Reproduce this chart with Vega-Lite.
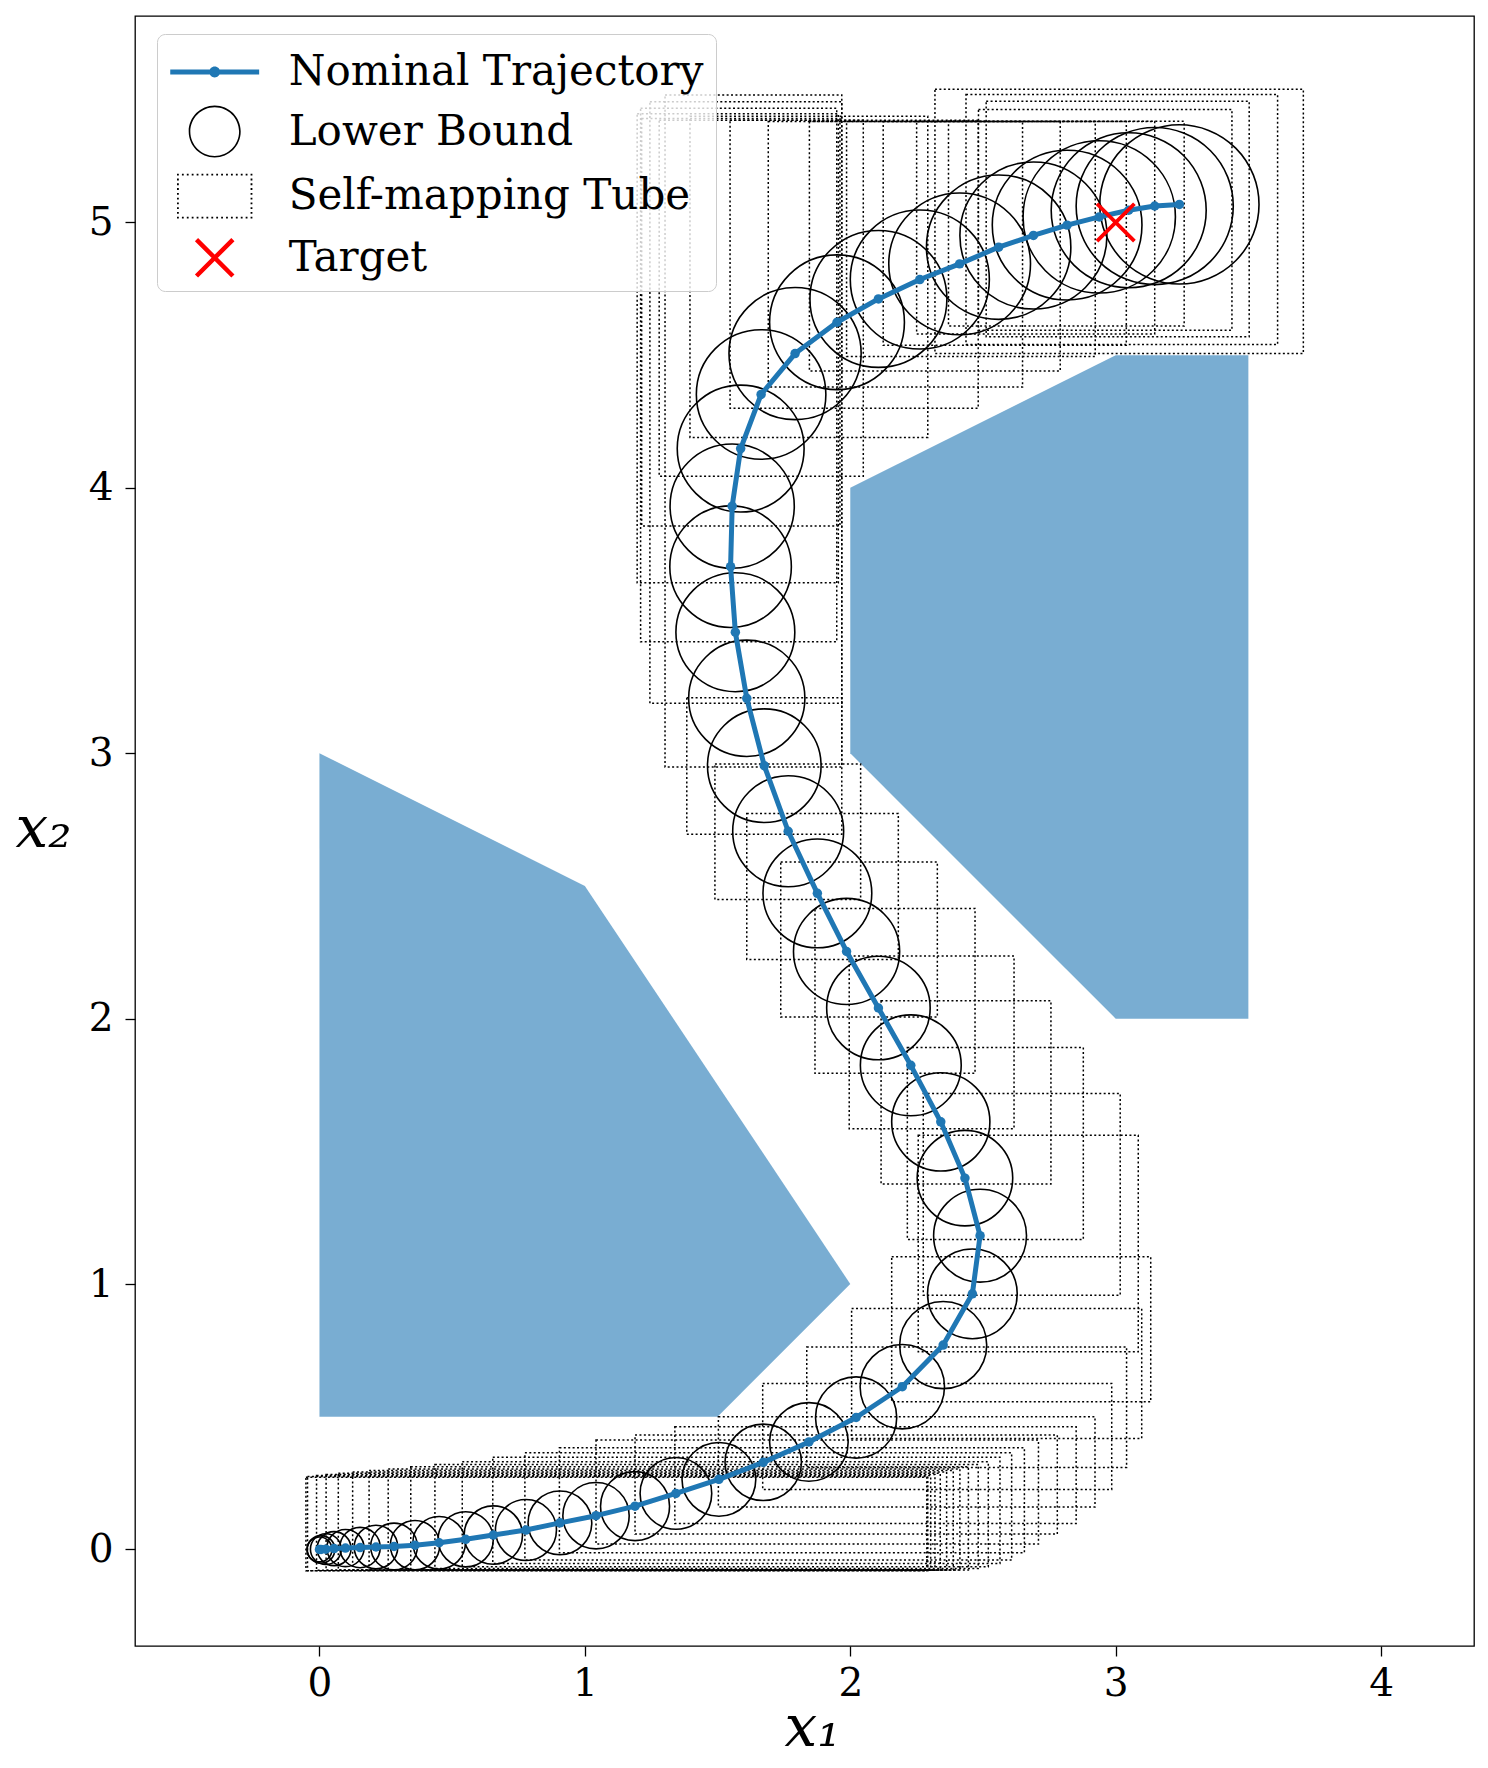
{
  "$schema": "https://vega.github.io/schema/vega-lite/v6.json",
  "width": 1339,
  "height": 1630,
  "autosize": {"type": "none"},
  "padding": {"left": 135, "top": 16, "right": 14, "bottom": 122},
  "background": "white",
  "config": {
    "view": {"stroke": "black", "strokeWidth": 1.3},
    "axis": {
      "grid": false, "domain": false, "ticks": true, "tickColor": "black", "tickWidth": 1.3, "tickSize": 10,
      "labelFont": "DejaVu Serif", "labelFontSize": 39, "labelColor": "black", "format": "d",
      "titleFont": "DejaVu Serif", "titleFontSize": 58, "titleFontStyle": "italic", "titleFontWeight": "normal", "titleColor": "black"
    }
  },
  "datasets": {
    "obstacles": [
      {"obstacle": "A", "x": 0, "y": 3, "y0": 0.5},
      {"obstacle": "A", "x": 1, "y": 2.5, "y0": 0.5},
      {"obstacle": "A", "x": 1.5, "y": 1.75, "y0": 0.5},
      {"obstacle": "A", "x": 2, "y": 1, "y0": 1},
      {"obstacle": "B", "x": 2, "y": 4, "y0": 3},
      {"obstacle": "B", "x": 3, "y": 4.5, "y0": 2},
      {"obstacle": "B", "x": 3.5, "y": 4.5, "y0": 2}
    ],
    "tube": [
      {"x1": -0.051, "x2": 2.288, "y1": -0.080, "y2": 0.272},
      {"x1": -0.045, "x2": 2.292, "y1": -0.080, "y2": 0.275},
      {"x1": -0.011, "x2": 2.303, "y1": -0.079, "y2": 0.278},
      {"x1": 0.025, "x2": 2.319, "y1": -0.079, "y2": 0.282},
      {"x1": 0.071, "x2": 2.339, "y1": -0.078, "y2": 0.287},
      {"x1": 0.125, "x2": 2.363, "y1": -0.078, "y2": 0.292},
      {"x1": 0.187, "x2": 2.388, "y1": -0.078, "y2": 0.297},
      {"x1": 0.259, "x2": 2.413, "y1": -0.078, "y2": 0.303},
      {"x1": 0.344, "x2": 2.445, "y1": -0.078, "y2": 0.311},
      {"x1": 0.435, "x2": 2.482, "y1": -0.072, "y2": 0.320},
      {"x1": 0.538, "x2": 2.520, "y1": -0.065, "y2": 0.330},
      {"x1": 0.653, "x2": 2.564, "y1": -0.053, "y2": 0.347},
      {"x1": 0.774, "x2": 2.608, "y1": -0.040, "y2": 0.364},
      {"x1": 0.904, "x2": 2.656, "y1": -0.013, "y2": 0.383},
      {"x1": 1.042, "x2": 2.709, "y1": 0.020, "y2": 0.412},
      {"x1": 1.189, "x2": 2.780, "y1": 0.058, "y2": 0.431},
      {"x1": 1.339, "x2": 2.851, "y1": 0.098, "y2": 0.462},
      {"x1": 1.503, "x2": 2.922, "y1": 0.160, "y2": 0.500},
      {"x1": 1.670, "x2": 2.985, "y1": 0.226, "y2": 0.625},
      {"x1": 1.836, "x2": 3.041, "y1": 0.309, "y2": 0.763},
      {"x1": 2.005, "x2": 3.098, "y1": 0.418, "y2": 0.908},
      {"x1": 2.156, "x2": 3.132, "y1": 0.556, "y2": 1.103},
      {"x1": 2.256, "x2": 3.085, "y1": 0.745, "y2": 1.561},
      {"x1": 2.275, "x2": 3.017, "y1": 0.958, "y2": 1.718},
      {"x1": 2.215, "x2": 2.878, "y1": 1.168, "y2": 1.891},
      {"x1": 2.116, "x2": 2.756, "y1": 1.377, "y2": 2.067},
      {"x1": 1.996, "x2": 2.617, "y1": 1.585, "y2": 2.236},
      {"x1": 1.867, "x2": 2.470, "y1": 1.794, "y2": 2.415},
      {"x1": 1.738, "x2": 2.328, "y1": 2.006, "y2": 2.590},
      {"x1": 1.610, "x2": 2.181, "y1": 2.223, "y2": 2.773},
      {"x1": 1.490, "x2": 2.039, "y1": 2.449, "y2": 2.959},
      {"x1": 1.384, "x2": 1.968, "y1": 2.695, "y2": 3.209},
      {"x1": 1.302, "x2": 1.968, "y1": 2.948, "y2": 5.480},
      {"x1": 1.245, "x2": 1.968, "y1": 3.188, "y2": 5.455},
      {"x1": 1.210, "x2": 1.949, "y1": 3.420, "y2": 5.430},
      {"x1": 1.197, "x2": 1.955, "y1": 3.642, "y2": 5.410},
      {"x1": 1.214, "x2": 1.961, "y1": 3.856, "y2": 5.392},
      {"x1": 1.280, "x2": 2.049, "y1": 4.044, "y2": 5.385},
      {"x1": 1.396, "x2": 2.292, "y1": 4.190, "y2": 5.400},
      {"x1": 1.547, "x2": 2.482, "y1": 4.300, "y2": 5.385},
      {"x1": 1.691, "x2": 2.649, "y1": 4.380, "y2": 5.380},
      {"x1": 1.846, "x2": 2.791, "y1": 4.440, "y2": 5.380},
      {"x1": 1.986, "x2": 2.923, "y1": 4.495, "y2": 5.380},
      {"x1": 2.124, "x2": 3.040, "y1": 4.537, "y2": 5.380},
      {"x1": 2.250, "x2": 3.147, "y1": 4.580, "y2": 5.380},
      {"x1": 2.370, "x2": 3.258, "y1": 4.610, "y2": 5.381},
      {"x1": 2.483, "x2": 3.438, "y1": 4.594, "y2": 5.426},
      {"x1": 2.512, "x2": 3.503, "y1": 4.569, "y2": 5.457},
      {"x1": 2.436, "x2": 3.610, "y1": 4.540, "y2": 5.482},
      {"x1": 2.319, "x2": 3.707, "y1": 4.506, "y2": 5.502}
    ],
    "traj": [
      {"step": 0, "x": 0.000, "y": 0.000, "r": 0.047},
      {"step": 1, "x": 0.006, "y": 0.000, "r": 0.052},
      {"step": 2, "x": 0.024, "y": 0.001, "r": 0.058},
      {"step": 3, "x": 0.055, "y": 0.003, "r": 0.064},
      {"step": 4, "x": 0.098, "y": 0.005, "r": 0.070},
      {"step": 5, "x": 0.153, "y": 0.007, "r": 0.076},
      {"step": 6, "x": 0.213, "y": 0.009, "r": 0.082},
      {"step": 7, "x": 0.281, "y": 0.011, "r": 0.088},
      {"step": 8, "x": 0.360, "y": 0.016, "r": 0.093},
      {"step": 9, "x": 0.451, "y": 0.025, "r": 0.099},
      {"step": 10, "x": 0.551, "y": 0.038, "r": 0.104},
      {"step": 11, "x": 0.655, "y": 0.054, "r": 0.110},
      {"step": 12, "x": 0.778, "y": 0.073, "r": 0.115},
      {"step": 13, "x": 0.906, "y": 0.100, "r": 0.120},
      {"step": 14, "x": 1.042, "y": 0.127, "r": 0.125},
      {"step": 15, "x": 1.189, "y": 0.163, "r": 0.130},
      {"step": 16, "x": 1.343, "y": 0.211, "r": 0.135},
      {"step": 17, "x": 1.505, "y": 0.264, "r": 0.139},
      {"step": 18, "x": 1.672, "y": 0.328, "r": 0.144},
      {"step": 19, "x": 1.844, "y": 0.405, "r": 0.148},
      {"step": 20, "x": 2.022, "y": 0.497, "r": 0.153},
      {"step": 21, "x": 2.196, "y": 0.613, "r": 0.159},
      {"step": 22, "x": 2.350, "y": 0.770, "r": 0.164},
      {"step": 23, "x": 2.460, "y": 0.963, "r": 0.169},
      {"step": 24, "x": 2.489, "y": 1.182, "r": 0.175},
      {"step": 25, "x": 2.432, "y": 1.399, "r": 0.180},
      {"step": 26, "x": 2.341, "y": 1.611, "r": 0.185},
      {"step": 27, "x": 2.228, "y": 1.824, "r": 0.190},
      {"step": 28, "x": 2.106, "y": 2.040, "r": 0.195},
      {"step": 29, "x": 1.986, "y": 2.253, "r": 0.200},
      {"step": 30, "x": 1.876, "y": 2.472, "r": 0.205},
      {"step": 31, "x": 1.766, "y": 2.706, "r": 0.209},
      {"step": 32, "x": 1.676, "y": 2.953, "r": 0.214},
      {"step": 33, "x": 1.610, "y": 3.207, "r": 0.219},
      {"step": 34, "x": 1.567, "y": 3.456, "r": 0.224},
      {"step": 35, "x": 1.549, "y": 3.703, "r": 0.229},
      {"step": 36, "x": 1.555, "y": 3.931, "r": 0.234},
      {"step": 37, "x": 1.587, "y": 4.148, "r": 0.239},
      {"step": 38, "x": 1.664, "y": 4.352, "r": 0.244},
      {"step": 39, "x": 1.792, "y": 4.506, "r": 0.249},
      {"step": 40, "x": 1.950, "y": 4.624, "r": 0.254},
      {"step": 41, "x": 2.106, "y": 4.712, "r": 0.258},
      {"step": 42, "x": 2.262, "y": 4.785, "r": 0.262},
      {"step": 43, "x": 2.412, "y": 4.844, "r": 0.267},
      {"step": 44, "x": 2.559, "y": 4.907, "r": 0.272},
      {"step": 45, "x": 2.690, "y": 4.951, "r": 0.277},
      {"step": 46, "x": 2.817, "y": 4.990, "r": 0.282},
      {"step": 47, "x": 2.938, "y": 5.021, "r": 0.287},
      {"step": 48, "x": 3.049, "y": 5.046, "r": 0.292},
      {"step": 49, "x": 3.147, "y": 5.062, "r": 0.296},
      {"step": 50, "x": 3.240, "y": 5.068, "r": 0.300}
    ],
    "target": [{"x": 3, "y": 5}],
    "legendEntries": [
      {"entry": "Nominal Trajectory"},
      {"entry": "Lower Bound"},
      {"entry": "Self-mapping Tube"},
      {"entry": "Target"}
    ]
  },
  "layer": [
    {
      "data": {"name": "obstacles"},
      "mark": {"type": "area", "color": "#1f77b4", "opacity": 0.6, "strokeWidth": 0},
      "encoding": {
        "x": {"field": "x", "type": "quantitative", "scale": {"domain": [-0.695, 4.35], "nice": false, "zero": false},
          "axis": {"values": [0, 1, 2, 3, 4], "title": "x₁", "labelPadding": 8, "titleX": 677, "titleY": 99, "titleAlign": "center", "titleBaseline": "alphabetic"}},
        "y": {"field": "y", "type": "quantitative", "stack": null, "scale": {"domain": [-0.364, 5.778], "nice": false, "zero": false},
          "axis": {"values": [0, 1, 2, 3, 4, 5], "title": "x₂", "labelPadding": 12, "titleAngle": 0, "titleX": -120, "titleY": 830, "titleAlign": "left", "titleBaseline": "alphabetic"}},
        "y2": {"field": "y0"},
        "detail": {"field": "obstacle", "type": "nominal"}
      }
    },
    {
      "data": {"name": "tube"},
      "mark": {"type": "rect", "filled": false, "color": "black", "strokeWidth": 1.5, "strokeDash": [2, 2.4]},
      "encoding": {
        "x": {"field": "x1", "type": "quantitative", "scale": {"domain": [-0.695, 4.35], "nice": false, "zero": false}},
        "x2": {"field": "x2"},
        "y": {"field": "y1", "type": "quantitative", "scale": {"domain": [-0.364, 5.778], "nice": false, "zero": false}},
        "y2": {"field": "y2"}
      }
    },
    {
      "data": {"name": "traj"},
      "mark": {"type": "point", "shape": "circle", "filled": false, "color": "black", "strokeWidth": 1.6, "opacity": 1},
      "encoding": {
        "x": {"field": "x", "type": "quantitative", "scale": {"domain": [-0.695, 4.35], "nice": false, "zero": false}},
        "y": {"field": "y", "type": "quantitative", "scale": {"domain": [-0.364, 5.778], "nice": false, "zero": false}},
        "size": {"field": "r", "type": "quantitative", "scale": {"type": "pow", "exponent": 2, "domain": [0, 1], "range": [0, 281750]}, "legend": null}
      }
    },
    {
      "data": {"name": "traj"},
      "mark": {"type": "line", "color": "#1f77b4", "strokeWidth": 5, "strokeJoin": "round", "point": {"filled": true, "size": 90, "color": "#1f77b4", "opacity": 1}},
      "encoding": {
        "x": {"field": "x", "type": "quantitative", "scale": {"domain": [-0.695, 4.35], "nice": false, "zero": false}},
        "y": {"field": "y", "type": "quantitative", "scale": {"domain": [-0.364, 5.778], "nice": false, "zero": false}},
        "order": {"field": "step", "type": "quantitative"}
      }
    },
    {
      "data": {"name": "target"},
      "mark": {"type": "point", "shape": "M-1,-1L1,1M-1,1L1,-1", "filled": false, "color": "red", "strokeWidth": 3.8, "size": 1400, "opacity": 1},
      "encoding": {
        "x": {"field": "x", "type": "quantitative", "scale": {"domain": [-0.695, 4.35], "nice": false, "zero": false}},
        "y": {"field": "y", "type": "quantitative", "scale": {"domain": [-0.364, 5.778], "nice": false, "zero": false}}
      }
    },
    {
      "data": {"name": "legendEntries"},
      "mark": {"type": "point", "filled": true, "opacity": 0},
      "encoding": {
        "color": {"field": "entry", "type": "nominal",
          "scale": {"domain": ["Nominal Trajectory", "Lower Bound", "Self-mapping Tube", "Target"], "range": ["#1f77b4", "black", "black", "red"]},
          "legend": {"title": null, "orient": "none", "legendX": 22, "legendY": 18, "padding": 12, "symbolOffset": 19.7, "labelOffset": 48,
            "symbolSize": 2704, "rowPadding": 12.6, "labelFont": "DejaVu Serif", "labelFontSize": 42, "labelColor": "black", "labelLimit": 1000,
            "fillColor": "rgba(255,255,255,0.8)", "strokeColor": "#cccccc", "cornerRadius": 8, "symbolOpacity": 1,
            "symbolStrokeWidth": 0, "symbolStrokeColor": "transparent"}
        },
        "shape": {"field": "entry", "type": "nominal",
          "scale": {"domain": ["Nominal Trajectory", "Lower Bound", "Self-mapping Tube", "Target"],
            "range": [
              "M-1.71,-0.096H1.71V0.096H-1.71ZM-0.21,0A0.21,0.21,0,1,1,0.21,0A0.21,0.21,0,1,1,-0.21,0Z",
              "M-1,0A1,1,0,1,1,1,0A1,1,0,1,1,-1,0ZM-0.938,0A0.938,0.938,0,1,0,0.938,0A0.938,0.938,0,1,0,-0.938,0Z",
              "M-1.45,-0.862h0.07v0.07h-0.07zM-1.261,-0.862h0.07v0.07h-0.07zM-1.073,-0.862h0.07v0.07h-0.07zM-0.884,-0.862h0.07v0.07h-0.07zM-0.695,-0.862h0.07v0.07h-0.07zM-0.507,-0.862h0.07v0.07h-0.07zM-0.318,-0.862h0.07v0.07h-0.07zM-0.129,-0.862h0.07v0.07h-0.07zM0.059,-0.862h0.07v0.07h-0.07zM0.248,-0.862h0.07v0.07h-0.07zM0.437,-0.862h0.07v0.07h-0.07zM0.625,-0.862h0.07v0.07h-0.07zM0.814,-0.862h0.07v0.07h-0.07zM1.003,-0.862h0.07v0.07h-0.07zM1.191,-0.862h0.07v0.07h-0.07zM1.38,-0.862h0.07v0.07h-0.07zM-1.45,0.792h0.07v0.07h-0.07zM-1.261,0.792h0.07v0.07h-0.07zM-1.073,0.792h0.07v0.07h-0.07zM-0.884,0.792h0.07v0.07h-0.07zM-0.695,0.792h0.07v0.07h-0.07zM-0.507,0.792h0.07v0.07h-0.07zM-0.318,0.792h0.07v0.07h-0.07zM-0.129,0.792h0.07v0.07h-0.07zM0.059,0.792h0.07v0.07h-0.07zM0.248,0.792h0.07v0.07h-0.07zM0.437,0.792h0.07v0.07h-0.07zM0.625,0.792h0.07v0.07h-0.07zM0.814,0.792h0.07v0.07h-0.07zM1.003,0.792h0.07v0.07h-0.07zM1.191,0.792h0.07v0.07h-0.07zM1.38,0.792h0.07v0.07h-0.07zM-1.45,-0.678h0.07v0.07h-0.07zM-1.45,-0.495h0.07v0.07h-0.07zM-1.45,-0.311h0.07v0.07h-0.07zM-1.45,-0.127h0.07v0.07h-0.07zM-1.45,0.057h0.07v0.07h-0.07zM-1.45,0.241h0.07v0.07h-0.07zM-1.45,0.425h0.07v0.07h-0.07zM-1.45,0.608h0.07v0.07h-0.07zM1.38,-0.678h0.07v0.07h-0.07zM1.38,-0.495h0.07v0.07h-0.07zM1.38,-0.311h0.07v0.07h-0.07zM1.38,-0.127h0.07v0.07h-0.07zM1.38,0.057h0.07v0.07h-0.07zM1.38,0.241h0.07v0.07h-0.07zM1.38,0.425h0.07v0.07h-0.07zM1.38,0.608h0.07v0.07h-0.07z",
              "M-0.639,-0.761L0.761,0.639L0.639,0.761L-0.761,-0.639ZM0.639,-0.761L0.761,-0.639L-0.639,0.761L-0.761,0.639Z"
            ]},
          "legend": {"title": null, "orient": "none", "legendX": 22, "legendY": 18, "padding": 12, "symbolOffset": 19.7, "labelOffset": 48,
            "symbolSize": 2704, "rowPadding": 12.6, "labelFont": "DejaVu Serif", "labelFontSize": 42, "labelColor": "black", "labelLimit": 1000,
            "fillColor": "rgba(255,255,255,0.8)", "strokeColor": "#cccccc", "cornerRadius": 8, "symbolOpacity": 1,
            "symbolStrokeWidth": 0, "symbolStrokeColor": "transparent"}
        }
      }
    }
  ]
}
